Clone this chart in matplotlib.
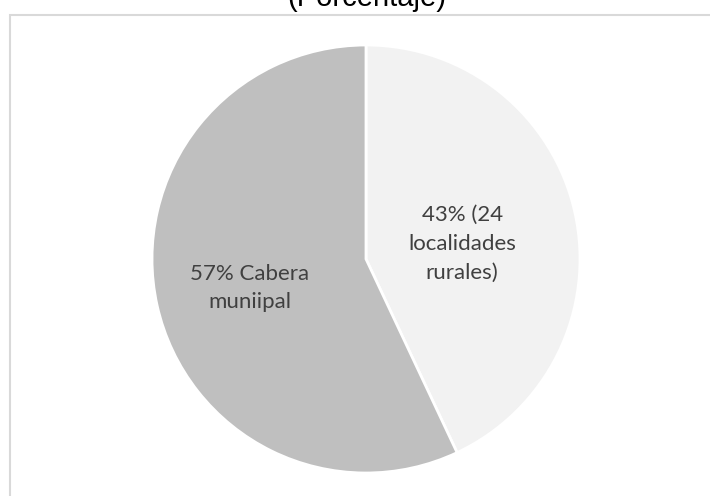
import numpy as np
import matplotlib
matplotlib.use("Agg")
import matplotlib.pyplot as plt
from matplotlib.patches import Rectangle

# data
labels = ["43% (24\nlocalidades\nrurales)", "57% Cabera\nmuniipal"]
shares = [43, 57]
colors = ["#f2f2f2", "#bfbfbf"]
label_dist = [0.455, 0.56]
label_shift = [-3.7, 1.4]  # degrees off the wedge middle

W, H = 710, 496
fig = plt.figure(figsize=(W / 100, H / 100), dpi=100)

# chart border (runs off the right and bottom edges)
border = Rectangle((10 / W, -0.2), 1.2, 1 - 15 / H + 0.2, transform=fig.transFigure,
                   fill=False, edgecolor="#d9d9d9", linewidth=1.5, clip_on=False)
fig.patches.append(border)

fig.text(367 / W, 1 - 6 / H, "(Porcentaje)", ha="center", va="baseline",
         fontsize=21, family="Liberation Sans", color="black")

cx, cy, r = 366, 259, 214
ax = fig.add_axes([(cx - r) / W, (H - cy - r) / H, 2 * r / W, 2 * r / H])
wedges, _ = ax.pie(shares, colors=colors, startangle=90, counterclock=False,
                   wedgeprops=dict(edgecolor="white", linewidth=2))
ax.set_xlim(-1, 1)
ax.set_ylim(-1, 1)
ax.set_aspect("equal")
ax.axis("off")

for w, lab, d, s in zip(wedges, labels, label_dist, label_shift):
    ang = np.deg2rad((w.theta1 + w.theta2) / 2 + s)
    ax.text(d * np.cos(ang), d * np.sin(ang), lab, ha="center", va="center",
            fontsize=16, family="Lato", color="#404040", linespacing=1.55)

fig.savefig("out.png", dpi=100)
